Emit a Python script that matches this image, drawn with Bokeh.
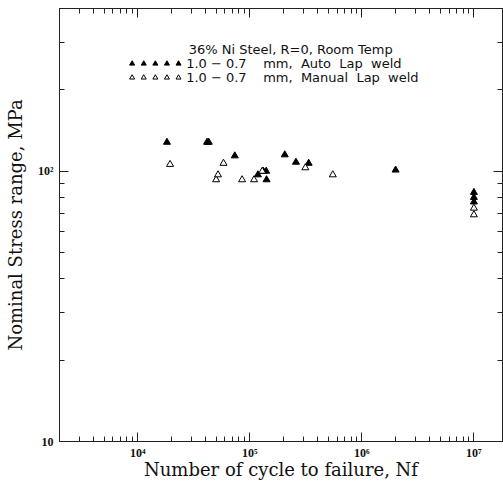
from bokeh.plotting import figure
from bokeh.models import Range1d, LogAxis, FixedTicker, Label
from bokeh.embed import file_html
from bokeh.resources import INLINE
import numpy as np

# Fatigue results: cycles to failure vs nominal stress range (MPa)
auto_cycles = [18200, 41500, 43000, 73400, 118000, 132000, 140000, 141000,
               205000, 258000, 335000, 2.0e6, 1e7, 1e7, 1e7]
auto_stress = [128, 128, 128, 114, 97, 100, 100, 93,
               115, 108, 107, 101, 83.5, 80, 77]

manual_cycles = [19400, 50000, 52000, 58200, 85300, 109000, 129000,
                 313000, 550000, 1e7, 1e7]
manual_stress = [106, 93, 97, 107, 93, 93, 100, 103, 97, 73, 69]

NB = "\u00a0"  # non-collapsing space for the wide key spacing
title_line = "36% Ni Steel, R=0, Room Temp"
auto_label = f"1.0{NB}\u2212{NB}0.7{NB * 4}mm,{NB * 2}Auto{NB * 2}Lap{NB * 2}weld"
manual_label = f"1.0{NB}\u2212{NB}0.7{NB * 4}mm,{NB * 2}Manual{NB * 2}Lap{NB * 2}weld"

x_major = [1e4, 1e5, 1e6, 1e7]
x_major_labels = ["10\u2074", "10\u2075", "10\u2076", "10\u2077"]
y_major = [10, 100]
y_major_labels = ["10", "10\u00b2"]

X_MIN, X_MAX = 2000, 1.8e7
Y_MIN, Y_MAX = 10, 400

x_minor = [m * 10.0 ** k for k in range(3, 8) for m in range(2, 10)
           if X_MIN <= m * 10.0 ** k <= X_MAX]
y_minor = [m * 10.0 ** k for k in range(1, 3) for m in range(2, 10)
           if Y_MIN <= m * 10.0 ** k <= Y_MAX]

p = figure(width=503, height=490, x_axis_type="log", y_axis_type="log",
           x_range=Range1d(X_MIN, X_MAX), y_range=Range1d(Y_MIN, Y_MAX),
           output_backend="svg", toolbar_location=None,
           min_border_left=59, min_border_right=1, min_border_top=8,
           min_border_bottom=49)
p.background_fill_color = "white"
p.border_fill_color = "white"
p.outline_line_color = "#222222"
p.xgrid.visible = False
p.ygrid.visible = False

serif = "DejaVu Serif"
tick_font = "Liberation Serif"


def style_axis(ax, ticks, minor, labels=None):
    ax.ticker = FixedTicker(ticks=ticks, minor_ticks=minor)
    ax.axis_line_color = "#222222"
    ax.major_tick_line_color = "#222222"
    ax.minor_tick_line_color = "#222222"
    ax.major_tick_in = 9
    ax.major_tick_out = 0
    ax.minor_tick_in = 5
    ax.minor_tick_out = 0
    if labels is None:
        # mirrored tick axis: ticks only, labels hidden
        ax.major_label_text_font_size = "1px"
        ax.major_label_text_color = None
        ax.major_label_standoff = 0
    else:
        ax.major_label_overrides = dict(zip(ticks, labels))
        ax.major_label_text_font = tick_font
        ax.major_label_text_font_style = "bold"
        ax.major_label_text_font_size = "12px"
        ax.major_label_text_color = "#111111"


xa = p.xaxis[0]
ya = p.yaxis[0]
style_axis(xa, x_major, x_minor, x_major_labels)
style_axis(ya, y_major, y_minor, y_major_labels)
xa.major_label_standoff = 4
ya.major_label_standoff = 6
ya.major_label_orientation = "horizontal"

xa.axis_label = "Number of cycle to failure, Nf"
ya.axis_label = "Nominal Stress range, MPa"
for ax in (xa, ya):
    ax.axis_label_text_font = serif
    ax.axis_label_text_font_style = "normal"
    ax.axis_label_text_font_size = "18px"
    ax.axis_label_text_color = "#111111"
xa.axis_label_standoff = -4
ya.axis_label_standoff = 9

top_ax = LogAxis()
right_ax = LogAxis()
style_axis(top_ax, x_major, x_minor)
style_axis(right_ax, y_major, y_minor)
p.add_layout(top_ax, "above")
p.add_layout(right_ax, "right")

# data
p.scatter(auto_cycles, auto_stress, marker="triangle", size=7,
          fill_color="black", line_color="black", line_width=1)
p.scatter(manual_cycles, manual_stress, marker="triangle", size=7,
          fill_color="white", line_color="black", line_width=1)

# key, drawn inside the plot area
key_x0, key_x1 = 8900, 23100
key_text_x = 27000
key_title_x = 28500
key_rows_y = [282, 250, 222]
key_font = "DejaVu Sans"

for txt, xx, yy in zip([title_line, auto_label, manual_label],
                       [key_title_x, key_text_x, key_text_x], key_rows_y):
    p.add_layout(Label(x=xx, y=yy, text=txt,
                       text_font=key_font, text_font_size="13px",
                       text_color="#111111", text_baseline="middle"))

mx = np.geomspace(key_x0, key_x1, 5)
p.scatter(mx, [key_rows_y[1]] * 5, marker="triangle", size=5,
          fill_color="black", line_color="black", line_width=1)
p.scatter(mx, [key_rows_y[2]] * 5, marker="triangle", size=5,
          fill_color="white", line_color="black", line_width=1)

open("out.html", "w").write(file_html(p, INLINE))
